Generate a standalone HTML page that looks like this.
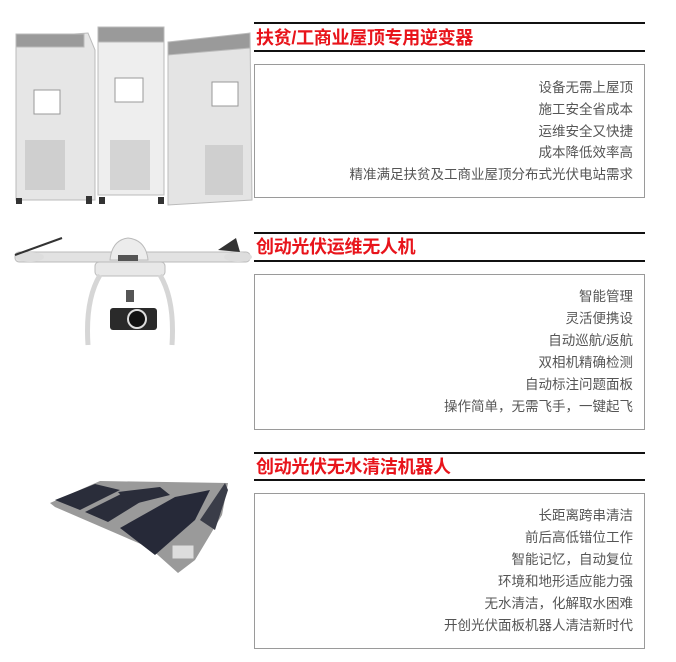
<!DOCTYPE html>
<html><head><meta charset="utf-8"><style>
*{margin:0;padding:0;box-sizing:border-box}
body{width:676px;height:662px;background:#fff;position:relative;overflow:hidden;font-family:"Liberation Sans","Noto Sans CJK SC",sans-serif}
.hl{position:absolute;left:254px;width:391px;height:2px;background:#111}
.t{position:absolute;left:256px;font-size:18px;font-weight:bold;color:#e8141b;line-height:20px;white-space:nowrap;letter-spacing:-0.3px}
.box{position:absolute;left:254px;width:391px;border:1px solid #9a9a9a}
.l{position:absolute;right:11px;font-size:13.5px;color:#555;line-height:16px;white-space:nowrap;text-align:right}
svg{position:absolute;left:0;top:0}
</style></head><body>
<svg width="676" height="662">
<g stroke="#bbb" stroke-width="1">
<polygon points="16,38 88,33 95,50 95,200 16,200" fill="#e6e6e6"/>
<rect x="16" y="34" width="68" height="13" fill="#9a9a9a"/>
<rect x="98" y="27" width="66" height="168" fill="#eeeeee"/>
<rect x="98" y="27" width="66" height="15" fill="#9a9a9a"/>
<polygon points="168,55 250,33 252,200 168,205" fill="#e4e4e4"/>
<polygon points="168,42 250,33 250,48 168,55" fill="#9a9a9a"/>
</g>
<g fill="#777">
<rect x="25" y="140" width="40" height="50" fill="#cfcfcf"/>
<rect x="110" y="140" width="40" height="50" fill="#d4d4d4"/>
<rect x="205" y="145" width="38" height="50" fill="#cfcfcf"/>
<rect x="34" y="90" width="26" height="24" fill="#fff" stroke="#999"/>
<rect x="115" y="78" width="28" height="24" fill="#fff" stroke="#999"/>
<rect x="212" y="82" width="26" height="24" fill="#fff" stroke="#999"/>
<rect x="16" y="198" width="6" height="6" fill="#333"/><rect x="86" y="196" width="6" height="8" fill="#333"/>
<rect x="99" y="197" width="6" height="7" fill="#333"/><rect x="158" y="197" width="6" height="7" fill="#333"/>
</g>
<g>
<rect x="15" y="252" width="235" height="10" rx="4" fill="#e2e2e2" stroke="#bbb"/>
<ellipse cx="30" cy="257" rx="14" ry="5" fill="#ddd"/>
<ellipse cx="238" cy="257" rx="14" ry="5" fill="#ddd"/>
<line x1="15" y1="255" x2="62" y2="238" stroke="#333" stroke-width="2"/>
<polygon points="218,250 236,238 240,252" fill="#333"/>
<path d="M110,260 Q112,240 128,238 Q146,240 148,260 Z" fill="#ececec" stroke="#bbb"/>
<rect x="118" y="255" width="20" height="6" fill="#555"/>
<rect x="95" y="262" width="70" height="14" rx="4" fill="#e8e8e8" stroke="#bbb"/>
<path d="M100,275 Q85,300 88,345 M160,275 Q175,300 172,345" stroke="#d6d6d6" stroke-width="5" fill="none"/>
<rect x="126" y="290" width="8" height="12" fill="#555"/>
<rect x="110" y="308" width="47" height="22" rx="3" fill="#2a2a2a"/>
<circle cx="137" cy="319" r="9" fill="#111" stroke="#ddd" stroke-width="2"/>
</g>
<g>
<polygon points="50,503 100,481 228,483 222,515 195,560 178,573 150,548 55,507" fill="#9a9a9a"/>
<polygon points="55,500 95,484 120,490 80,510" fill="#2a2d3a"/>
<polygon points="85,512 125,492 150,496 108,522" fill="#2a2d3a"/>
<polygon points="118,492 160,487 170,495 130,505" fill="#2a2d3a"/>
<polygon points="120,528 175,497 210,490 195,520 155,555" fill="#262938"/>
<polygon points="200,520 225,483 228,490 215,530" fill="#3a3d48"/>
<rect x="172" y="545" width="22" height="14" fill="#ddd" stroke="#999"/>
</g>
</svg>

<div class="hl" style="top:22px"></div>
<div class="t" style="top:28px">扶贫/工商业屋顶专用逆变器</div>
<div class="hl" style="top:50px"></div>
<div class="box" style="top:64px;height:134px">
<div class="l" style="top:15px">设备无需上屋顶</div>
<div class="l" style="top:37px">施工安全省成本</div>
<div class="l" style="top:59px">运维安全又快捷</div>
<div class="l" style="top:80px">成本降低效率高</div>
<div class="l" style="top:102px">精准满足扶贫及工商业屋顶分布式光伏电站需求</div>
</div>

<div class="hl" style="top:232px"></div>
<div class="t" style="top:237px">创动光伏运维无人机</div>
<div class="hl" style="top:260px"></div>
<div class="box" style="top:274px;height:156px">
<div class="l" style="top:14px">智能管理</div>
<div class="l" style="top:36px">灵活便携设</div>
<div class="l" style="top:58px">自动巡航/返航</div>
<div class="l" style="top:80px">双相机精确检测</div>
<div class="l" style="top:102px">自动标注问题面板</div>
<div class="l" style="top:124px">操作简单，无需飞手，一键起飞</div>
</div>

<div class="hl" style="top:452px"></div>
<div class="t" style="top:457px">创动光伏无水清洁机器人</div>
<div class="hl" style="top:479px"></div>
<div class="box" style="top:493px;height:156px">
<div class="l" style="top:14px">长距离跨串清洁</div>
<div class="l" style="top:36px">前后高低错位工作</div>
<div class="l" style="top:58px">智能记忆，自动复位</div>
<div class="l" style="top:80px">环境和地形适应能力强</div>
<div class="l" style="top:102px">无水清洁，化解取水困难</div>
<div class="l" style="top:124px">开创光伏面板机器人清洁新时代</div>
</div>
</body></html>
